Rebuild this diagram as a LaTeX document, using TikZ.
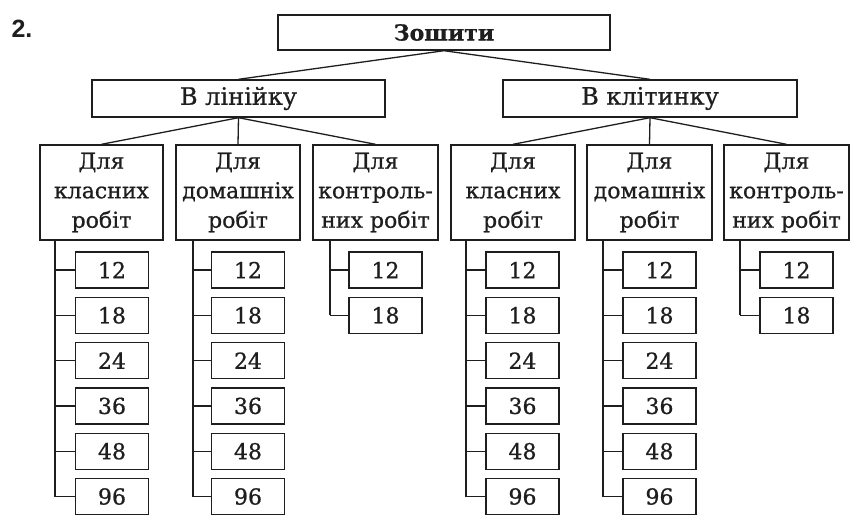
\documentclass[tikz,border=0pt]{standalone}
\usepackage{fontspec}
\setmainfont{DejaVu Serif}[FakeBold=0.8]
\newfontfamily\labelfont{Liberation Sans}
\definecolor{ink}{HTML}{1E1E1E}
\tikzset{
  box/.style={draw=ink, line width=1.4pt, inner sep=0pt, align=center, text=ink},
  leaf/.style={box, minimum width=73, minimum height=36, font=\fontsize{22}{24}\selectfont},
  cat/.style={box, minimum width=124, minimum height=95, font=\fontsize{22}{29.5}\selectfont},
  mid/.style={box, minimum width=293, minimum height=37, font=\fontsize{24}{26}\selectfont},
  wire/.style={draw=ink, line width=1.3pt}
}
\begin{document}
\begin{tikzpicture}[x=1pt,y=-1pt]
\useasboundingbox (0,0) rectangle (859,523);
\node[font=\labelfont\bfseries\fontsize{25}{28}\selectfont, text=ink] (num) at (22,29) {2.};
\node[box, minimum width=332, minimum height=35, font=\bfseries\fontsize{22}{24}\selectfont] (top) at (444,32.5) {Зошити};
\node[mid] (lin) at (238.5,98.5) {В лінійку};
\node[mid, minimum width=294] (kl) at (650,98.5) {В клітинку};
\draw[wire] (top.south) -- (lin.north);
\draw[wire] (top.south) -- (kl.north);
% categories
\node[cat, minimum width=123] (A1) at (101.5,192.5) {Для\\класних\\робіт};
\node[cat] (A2) at (238,192.5) {Для\\домашніх\\робіт};
\node[cat, minimum width=125] (A3) at (375.5,192.5) {Для\\контроль-\\них робіт};
\node[cat] (B1) at (513,192.5) {Для\\класних\\робіт};
\node[cat, minimum width=125] (B2) at (649.5,192.5) {Для\\домашніх\\робіт};
\node[cat, minimum width=125] (B3) at (786.5,192.5) {Для\\контроль-\\них робіт};
\foreach \c in {A1,A2,A3} \draw[wire] (lin.south) -- (\c.north);
\foreach \c in {B1,B2,B3} \draw[wire] (kl.south) -- (\c.north);
% leaves
\foreach \c/\vx/\lx/\n in {A1/55/112/6, A2/193/248/6, A3/330/385.5/2, B1/466/522.5/6, B2/603/659.5/6, B3/740/796.5/2}{
  \foreach \v [count=\i] in {12,18,24,36,48,96}{
    \ifnum\i>\n\relax\else
      \node[leaf] (\c-\i) at (\lx,{270+45.3*(\i-1)}) {\v};
      \coordinate (\c-j\i) at (\vx,{270+45.3*(\i-1)});
      \draw[wire] (\c-j\i) -- (\c-\i.west);
    \fi
  }
  \coordinate (\c-s) at (\vx,240);
  \draw[wire] (\c-s) -- (\c-j\n);
}
\end{tikzpicture}
\end{document}
